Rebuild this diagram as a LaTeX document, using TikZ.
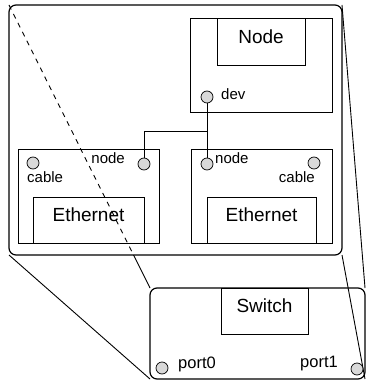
\documentclass[tikz,border=0pt]{standalone}
\usepackage{fontspec}
\setmainfont{Liberation Sans}
\begin{document}
\begin{tikzpicture}[x=1pt,y=-1pt,
  box/.style={draw, line width=0.9pt, rectangle, inner sep=0pt, outer sep=0pt},
  frame/.style={draw, line width=1.2pt, rectangle, rounded corners=7pt, inner sep=0pt, outer sep=0pt},
  port/.style={circle, draw, line width=0.7pt, fill=black!15, minimum size=12pt, inner sep=0pt, outer sep=0pt},
  big/.style={font=\fontsize{19}{19}\selectfont, inner sep=0pt},
  small/.style={font=\fontsize{15}{15}\selectfont, inner sep=0pt},
  portlbl/.style={font=\fontsize{16.5}{16.5}\selectfont, inner sep=0pt},
  link/.style={line width=0.9pt},
  proj/.style={line width=0.9pt}]
\useasboundingbox (0,0) rectangle (367,382);

% outer frames
\node[frame, minimum width=333pt, minimum height=250pt] (host) at (175.5,130) {};
\node[frame, minimum width=215pt, minimum height=91pt] (sw) at (257.5,333.5) {};

% projection lines
\coordinate (hnw) at (host.north west);
\coordinate (hsw) at (host.south west);
\coordinate (hse) at (host.south east);
\coordinate (snw) at (sw.north west);
\coordinate (cross) at (intersection of hnw--snw and hsw--hse);
\draw[proj, dash pattern=on 5pt off 5pt] (hnw) -- (cross);
\draw[proj] (cross) -- (snw);
\draw[proj] (host.south west) -- (sw.south west);
\draw[proj] (host.north east) -- (sw.north east);
\draw[proj] (host.south east) -- (sw.south east);

% Node component
\node[box, minimum width=142pt, minimum height=94pt] (nodebox) at (261,65) {};
\node[box, minimum width=88pt, minimum height=47pt,
      label={[big, yshift=5pt]center:Node}] (nodecore) at (261,41.5) {};

% Ethernet A
\node[box, minimum width=141pt, minimum height=94pt] (ethA) at (88.5,196) {};
\node[box, minimum width=111pt, minimum height=46pt,
      label={[big, yshift=5pt]center:Ethernet}] (ethAcore) at (88.5,220) {};

% Ethernet B
\node[box, minimum width=141pt, minimum height=94pt] (ethB) at (261.5,196) {};
\node[box, minimum width=109pt, minimum height=46pt,
      label={[big, yshift=5pt]center:Ethernet}] (ethBcore) at (261.5,220) {};

% Switch
\node[box, minimum width=87pt, minimum height=46pt,
      label={[big, yshift=5.5pt]center:Switch}] (swcore) at (264.5,311) {};

% ports
\node[port] (dev) at (207,97) {};
\node[small, anchor=west] (devlbl) at (221,94) {dev};

\node[port] (cableA) at (33,163) {};
\node[port] (nodeA) at (144,164) {};
\node[small, anchor=east] (nodeAlbl) at (125,158) {node};
\node[small, anchor=west] (cableAlbl) at (27,177) {cable};

\node[port] (nodeB) at (207,164) {};
\node[port] (cableB) at (314,163) {};
\node[small, anchor=west] (nodeBlbl) at (215,158) {node};
\node[small, anchor=east] (cableBlbl) at (315,177) {cable};

\node[port] (port0) at (162,368) {};
\node[portlbl, anchor=west] (port0lbl) at (178,364) {port0};
\node[port] (port1) at (357,369) {};
\node[portlbl, anchor=east] (port1lbl) at (338,364) {port1};

% connectors
\coordinate (junction) at (207,131);
\draw[link] (dev) -- (nodeB);
\draw[link] (nodeA) |- (junction);
\end{tikzpicture}
\end{document}
